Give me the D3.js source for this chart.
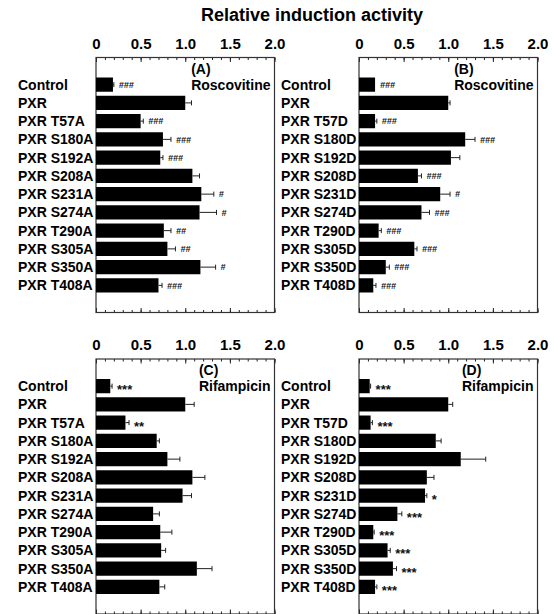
<!DOCTYPE html>
<html><head><meta charset="utf-8">
<script src="https://cdn.jsdelivr.net/npm/d3@7"></script>
<style>
body{margin:0;background:#fff;}
svg{display:block;font-family:"Liberation Sans",Arial,Helvetica,sans-serif;}
</style></head>
<body><svg id="chart" width="554" height="614"></svg>
<script>
const title = "Relative induction activity";
const tickValues = [0, 0.5, 1.0, 1.5, 2.0];
const tickLabels = ["0", "0.5", "1.0", "1.5", "2.0"];
const catsA = ["Control","PXR","PXR T57A","PXR S180A","PXR S192A","PXR S208A","PXR S231A","PXR S274A","PXR T290A","PXR S305A","PXR S350A","PXR T408A"];
const catsD = ["Control","PXR","PXR T57D","PXR S180D","PXR S192D","PXR S208D","PXR S231D","PXR S274D","PXR T290D","PXR S305D","PXR S350D","PXR T408D"];

const valA = [0.19,1.00,0.50,0.75,0.72,1.08,1.18,1.16,0.76,0.80,1.17,0.70];
const errA = [0.01,0.07,0.03,0.09,0.03,0.08,0.14,0.19,0.08,0.09,0.17,0.04];
const sigA = ["###","","###","###","###","","#","#","##","##","#","###"];

const valB = [0.18,1.00,0.18,1.19,1.03,0.66,0.91,0.70,0.22,0.62,0.30,0.16];
const errB = [0.00,0.02,0.02,0.11,0.10,0.04,0.11,0.09,0.03,0.03,0.04,0.03];
const sigB = ["###","","###","###","","###","#","###","###","###","###","###"];

const valC = [0.16,1.00,0.33,0.68,0.80,1.08,0.97,0.64,0.72,0.73,1.13,0.71];
const errC = [0.02,0.10,0.04,0.03,0.14,0.14,0.10,0.07,0.13,0.05,0.17,0.06];
const sigC = ["***","","**","","","","","","","","",""];

const valD = [0.12,1.00,0.13,0.86,1.14,0.76,0.74,0.43,0.16,0.32,0.38,0.18];
const errD = [0.01,0.05,0.02,0.06,0.28,0.08,0.02,0.05,0.01,0.03,0.04,0.02];
const sigD = ["***","","***","","","","*","***","***","***","***","***"];

const panels = [
  {tag:"(A)", drug:"Roscovitine", cats:catsA, vals:valA, errs:errA, sig:sigA, x0:96,  y0:57.5},
  {tag:"(B)", drug:"Roscovitine", cats:catsD, vals:valB, errs:errB, sig:sigB, x0:359, y0:57.5},
  {tag:"(C)", drug:"Rifampicin",  cats:catsA, vals:valC, errs:errC, sig:sigC, x0:96,  y0:359},
  {tag:"(D)", drug:"Rifampicin",  cats:catsD, vals:valD, errs:errD, sig:sigD, x0:359, y0:359}
];
const W = 178.5, H = 255;
const svg = d3.select("#chart");

svg.append("text").attr("x",312).attr("y",21).attr("text-anchor","middle")
  .attr("font-size",18).attr("font-weight","bold").attr("fill","#000").text(title);

panels.forEach(p => {
  const x = d3.scaleLinear().domain([0,2]).range([p.x0, p.x0+W]);
  const y = d3.scaleBand().domain(p.cats).range([p.y0+18, p.y0+237]).paddingInner(0.22).paddingOuter(0.11);
  const g = svg.append("g");

  // minor ticks top/bottom
  const minor = d3.range(0, 21).map(i => i/10);
  const topMinor = g.append("g").attr("transform",`translate(0,${p.y0})`)
    .call(d3.axisTop(x).tickValues(minor).tickSizeInner(-2.5).tickSizeOuter(0).tickFormat(""));
  const botMinor = g.append("g").attr("transform",`translate(0,${p.y0+H})`)
    .call(d3.axisBottom(x).tickValues(minor).tickSizeInner(-2.5).tickSizeOuter(0).tickFormat(""));
  const topMajor = g.append("g").attr("transform",`translate(0,${p.y0})`)
    .call(d3.axisTop(x).tickValues(tickValues).tickSizeInner(-4.5).tickSizeOuter(0).tickPadding(9)
      .tickFormat((d,i)=>tickLabels[i]));
  const botMajor = g.append("g").attr("transform",`translate(0,${p.y0+H})`)
    .call(d3.axisBottom(x).tickValues(tickValues).tickSizeInner(-4.5).tickSizeOuter(0).tickFormat(""));
  [topMinor,botMinor,topMajor,botMajor].forEach(a=>{
    a.select(".domain").remove();
    a.selectAll("line").attr("stroke","#222").attr("stroke-width",1);
  });
  topMajor.selectAll("text").attr("font-size",15).attr("font-weight","bold")
    .attr("fill","#000").attr("font-family","Liberation Sans, Arial, sans-serif");

  // box
  g.append("rect").attr("x",p.x0).attr("y",p.y0).attr("width",W).attr("height",H)
    .attr("fill","none").attr("stroke","#333").attr("stroke-width",1.2);

  // category labels
  g.selectAll("text.cat").data(p.cats).join("text").attr("class","cat")
    .attr("x", p.x0-78).attr("y", d => y(d)+y.bandwidth()/2).attr("dy","0.36em")
    .attr("font-size",14).attr("font-weight","bold").attr("fill","#000").text(d=>d);

  // bars
  g.selectAll("rect.bar").data(p.vals).join("rect").attr("class","bar")
    .attr("x", x(0)).attr("y",(d,i)=>y(p.cats[i])).attr("height",y.bandwidth())
    .attr("width", d => x(d)-x(0)).attr("fill","#000");

  // error bars
  p.vals.forEach((v,i)=>{
    const cy = y(p.cats[i])+y.bandwidth()/2;
    const e = p.errs[i];
    if (e > 0) {
      g.append("line").attr("x1",x(v)).attr("x2",x(v+e)).attr("y1",cy).attr("y2",cy)
        .attr("stroke","#222").attr("stroke-width",1);
      g.append("line").attr("x1",x(v+e)).attr("x2",x(v+e)).attr("y1",cy-2.5).attr("y2",cy+2.5)
        .attr("stroke","#222").attr("stroke-width",1);
    }
    const s = p.sig[i];
    if (s) {
      const isHash = s[0] === "#";
      g.append("text").attr("x", x(v+e)+5)
        .attr("y", isHash ? cy+3.2 : cy+8)
        .attr("font-size", isHash ? 9 : 13)
        .attr("font-style", isHash ? "italic" : "normal")
        .attr("font-weight", "bold")
        .attr("fill","#111").text(s);
    }
  });

  // panel tag & drug name
  const drug = g.append("text").attr("x",p.x0+W-4).attr("y",p.y0+32).attr("text-anchor","end")
    .attr("font-size",14).attr("font-weight","bold").attr("fill","#000").text(p.drug);
  const dx = drug.node().getComputedTextLength();
  g.append("text").attr("x",p.x0+W-4-dx).attr("y",p.y0+16)
    .attr("font-size",14).attr("font-weight","bold").attr("fill","#000").text(p.tag);
});
</script></body></html>
